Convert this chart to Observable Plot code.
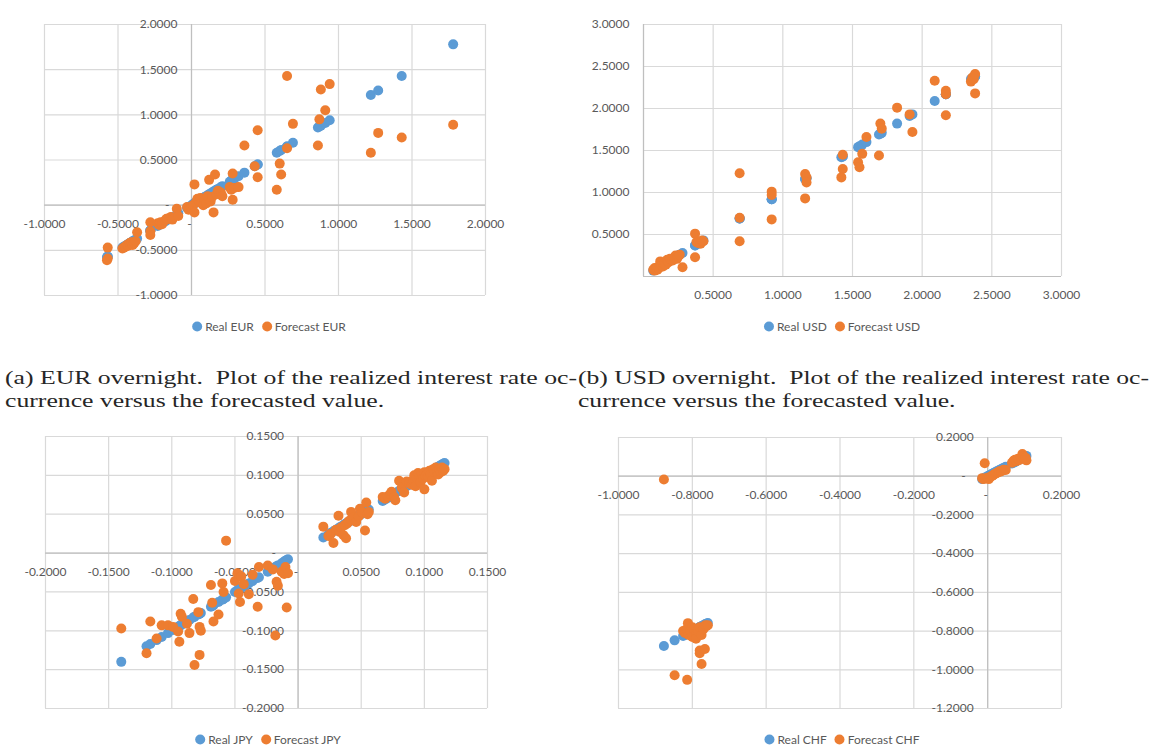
<!DOCTYPE html>
<html>
<head>
<meta charset="utf-8">
<script src="https://cdn.jsdelivr.net/npm/d3@7"></script>
<script src="https://cdn.jsdelivr.net/npm/@observablehq/plot@0.6"></script>
<style>
  body { margin: 0; background: #fff; width: 1157px; height: 749px; overflow: hidden; position: relative; font-family: Lato, sans-serif; }
  .panel { position: absolute; }
  .legend { position: absolute; font: 12px Lato, sans-serif; color: #595959; white-space: nowrap; transform: translate(-50%, -50%); }
  .legend .sw { display: inline-block; width: 10px; height: 10px; border-radius: 50%; vertical-align: -1px; margin-right: 3px; }
  .legend .item + .item { margin-left: 8px; }
  .caption { position: absolute; font-family: "Liberation Serif", serif; font-size: 19px; color: #262626; line-height: 23px; }
  .caption span { display: block; white-space: pre; transform-origin: left center; width: max-content; }
</style>
</head>
<body>
<script>
// Overnight rates: realized value of each observation and the model forecast for it.
const eurReal = [
  -0.57, -0.57, -0.575, -0.47, -0.46, -0.45, -0.44, -0.43, -0.42, -0.41,
  -0.40, -0.39, -0.38, -0.37, -0.28, -0.28, -0.28, -0.23, -0.22, -0.21,
  -0.20, -0.18, -0.17, -0.14, -0.13, -0.10, -0.09, -0.03, -0.02, 0.00,
  0.01, 0.02, 0.02, 0.03, 0.04, 0.05, 0.06, 0.07, 0.08, 0.09,
  0.10, 0.11, 0.12, 0.13, 0.14, 0.15, 0.16, 0.17, 0.18, 0.20,
  0.21, 0.26, 0.27, 0.28, 0.28, 0.29, 0.32, 0.36, 0.43, 0.45,
  0.45, 0.58, 0.60, 0.61, 0.65, 0.65, 0.69, 0.86, 0.87, 0.88,
  0.91, 0.94, 1.22, 1.27, 1.43, 1.78
];
const eurForecast = [
  -0.47, -0.59, -0.61, -0.48, -0.47, -0.46, -0.44, -0.45, -0.42, -0.41,
  -0.44, -0.42, -0.40, -0.30, -0.19, -0.29, -0.33, -0.20, -0.22, -0.19,
  -0.21, -0.17, -0.15, -0.13, -0.16, -0.04, -0.12, -0.02, -0.05, -0.03,
  0.00, 0.23, -0.08, 0.03, 0.07, 0.05, 0.08, 0.02, 0.00, 0.06,
  0.02, 0.10, 0.28, 0.04, 0.09, -0.08, 0.34, 0.12, 0.16, 0.14,
  0.10, 0.20, 0.17, 0.35, 0.06, 0.19, 0.20, 0.66, 0.43, 0.83,
  0.31, 0.17, 0.46, 0.34, 1.43, 0.63, 0.90, 0.66, 0.95, 1.28,
  1.05, 1.34, 0.58, 0.80, 0.75, 0.89
];

const usdReal = [
  0.07, 0.08, 0.08, 0.09, 0.10, 0.10, 0.11, 0.12, 0.12, 0.13,
  0.14, 0.15, 0.16, 0.17, 0.18, 0.19, 0.21, 0.22, 0.23, 0.24,
  0.25, 0.28, 0.26, 0.37, 0.37, 0.38, 0.39, 0.41, 0.42, 0.43,
  0.69, 0.69, 0.69, 0.92, 0.92, 0.92, 1.16, 1.17, 1.17, 1.16,
  1.43, 1.43, 1.42, 1.54, 1.55, 1.57, 1.60, 1.70, 1.71, 1.69,
  1.82, 1.91, 1.93, 2.09, 2.17, 2.17, 2.17, 2.35, 2.36, 2.37,
  2.38, 2.38
];
const usdForecast = [
  0.08, 0.07, 0.10, 0.09, 0.08, 0.11, 0.10, 0.12, 0.18, 0.13,
  0.12, 0.15, 0.14, 0.20, 0.17, 0.21, 0.19, 0.22, 0.25, 0.21,
  0.24, 0.11, 0.26, 0.51, 0.23, 0.41, 0.40, 0.39, 0.43, 0.42,
  1.23, 0.70, 0.42, 1.01, 0.97, 0.68, 1.22, 1.18, 1.12, 0.93,
  1.45, 1.28, 1.18, 1.36, 1.30, 1.46, 1.66, 1.82, 1.76, 1.44,
  2.01, 1.93, 1.72, 2.33, 2.21, 2.17, 1.92, 2.32, 2.37, 2.35,
  2.41, 2.18
];

const jpyReal = [
  -0.140, -0.120, -0.117, -0.112, -0.108, -0.103, -0.099, -0.095, -0.094, -0.093,
  -0.092, -0.088, -0.086, -0.083, -0.082, -0.079, -0.078, -0.077, -0.078, -0.069,
  -0.068, -0.067, -0.063, -0.060, -0.059, -0.057, -0.050, -0.048, -0.047, -0.046,
  -0.045, -0.043, -0.039, -0.036, -0.032, -0.031, -0.024, -0.020, -0.018, -0.017,
  -0.016, -0.013, -0.011, -0.010, -0.009, -0.008,
  0.020, 0.024, 0.026, 0.028, 0.030, 0.032, 0.033, 0.034, 0.036, 0.037,
  0.038, 0.039, 0.040, 0.042, 0.042, 0.044, 0.046, 0.048, 0.049, 0.051,
  0.053, 0.054, 0.055, 0.056, 0.067, 0.069, 0.071, 0.073, 0.074, 0.076,
  0.077, 0.080, 0.082, 0.084, 0.086, 0.088, 0.090, 0.091, 0.092, 0.093,
  0.094, 0.095, 0.096, 0.097, 0.098, 0.099, 0.100, 0.100, 0.101, 0.102,
  0.103, 0.104, 0.105, 0.106, 0.107, 0.108, 0.109, 0.110, 0.111, 0.112,
  0.113, 0.114, 0.115, 0.116
];
const jpyForecast = [
  -0.097, -0.129, -0.088, -0.110, -0.093, -0.093, -0.095, -0.101, -0.114, -0.078,
  -0.082, -0.091, -0.103, -0.059, -0.144, -0.076, -0.095, -0.100, -0.131, -0.041,
  -0.064, -0.088, -0.079, -0.039, -0.050, 0.016, -0.036, -0.026, -0.052, -0.063,
  -0.030, -0.040, -0.053, -0.028, -0.069, -0.018, -0.016, -0.021, -0.106, -0.037,
  -0.042, -0.024, -0.027, -0.018, -0.070, -0.026,
  0.034, 0.022, 0.025, 0.013, 0.030, 0.048, 0.027, 0.033, 0.023, 0.036,
  0.019, 0.038, 0.041, 0.043, 0.053, 0.046, 0.040, 0.047, 0.057, 0.052,
  0.029, 0.065, 0.050, 0.053, 0.072, 0.070, 0.073, 0.076, 0.079, 0.072,
  0.068, 0.093, 0.084, 0.078, 0.092, 0.090, 0.088, 0.094, 0.100, 0.086,
  0.097, 0.103, 0.099, 0.091, 0.102, 0.096, 0.082, 0.104, 0.099, 0.101,
  0.098, 0.106, 0.102, 0.093, 0.108, 0.104, 0.110, 0.105, 0.101, 0.108,
  0.104, 0.110, 0.106, 0.108
];

const chfReal = [
  -0.877, -0.848, -0.825, -0.814, -0.820, -0.815, -0.812, -0.810, -0.805, -0.800,
  -0.800, -0.795, -0.790, -0.790, -0.785, -0.780, -0.780, -0.780, -0.775, -0.775,
  -0.770, -0.766, -0.765, -0.762, -0.758,
  -0.015, -0.012, -0.008, -0.005, 0.000, 0.003, 0.006, 0.010, 0.013, 0.016,
  0.020, 0.024, 0.028, 0.032, 0.036, 0.040, 0.044, 0.049, 0.066, 0.070,
  0.074, 0.078, 0.082, 0.086, 0.090, 0.094, 0.097, 0.100, 0.103, 0.105
];
const chfForecast = [
  -0.017, -1.028, -0.800, -1.052, -0.810, -0.790, -0.759, -0.820, -0.800, -0.780,
  -0.830, -0.790, -0.810, -0.840, -0.800, -0.900, -0.915, -0.780, -0.970, -0.820,
  -0.790, -0.893, -0.770, -0.775, -0.770,
  -0.010, -0.015, 0.067, -0.012, -0.008, -0.015, -0.005, 0.000, 0.003, 0.008,
  0.012, 0.016, 0.020, 0.026, 0.024, 0.030, 0.034, 0.032, 0.070, 0.080,
  0.085, 0.078, 0.090, 0.084, 0.095, 0.115, 0.100, 0.090, 0.095, 0.082
];

// Axis ticks of each panel
const eurTicks = [-1, -0.5, 0, 0.5, 1, 1.5, 2];
const usdTicks = [0, 0.5, 1, 1.5, 2, 2.5, 3];
const jpyTicks = [-0.2, -0.15, -0.1, -0.05, 0, 0.05, 0.1, 0.15];
const chfXTicks = [-1, -0.8, -0.6, -0.4, -0.2, 0, 0.2];
const chfYTicks = [-1.2, -1, -0.8, -0.6, -0.4, -0.2, 0, 0.2];

const realColor = "#5b9bd5";
const forecastColor = "#ed7d31";
const gridColor = "#d9d9d9";
const axisColor = "#bfbfbf";
const labelColor = "#595959";

const fmt = v => v.toFixed(4);

function scatter({real, forecast, xTicks, yTicks, zeroLabels, left, top, width, height, margin}) {
  const realPts = real.map(r => ({x: r, y: r}));
  const forecastPts = real.map((r, i) => ({x: r, y: forecast[i]}));
  const xLab = xTicks.filter(d => d !== 0);
  const yLab = yTicks.filter(d => d !== 0);
  const marks = [
    Plot.ruleX(xTicks, {stroke: gridColor, strokeWidth: 1.2}),
    Plot.ruleY(yTicks, {stroke: gridColor, strokeWidth: 1.2}),
    Plot.ruleX([0], {stroke: axisColor, strokeWidth: 1.2}),
    Plot.ruleY([0], {stroke: axisColor, strokeWidth: 1.2}),
    Plot.text(xLab, {x: d => d, y: () => 0, text: fmt, dy: 19, fill: labelColor, fontSize: 12}),
    Plot.text(yLab, {x: () => 0, y: d => d, text: fmt, dx: -14, textAnchor: "end", fill: labelColor, fontSize: 12})
  ];
  if (zeroLabels) {
    marks.push(
      Plot.text([0], {x: d => d, y: () => 0, text: () => "-", dy: 19, dx: -2, fill: labelColor, fontSize: 12}),
      Plot.text([0], {x: () => 0, y: d => d, text: () => "-", dx: -22, textAnchor: "end", fill: labelColor, fontSize: 12})
    );
  }
  marks.push(
    Plot.dot(realPts, {x: "x", y: "y", r: 5, fill: realColor}),
    Plot.dot(forecastPts, {x: "x", y: "y", r: 5, fill: forecastColor})
  );
  const svg = Plot.plot({
    width, height,
    marginLeft: margin[0], marginRight: margin[1], marginTop: margin[2], marginBottom: margin[3],
    x: {domain: [xTicks[0], xTicks[xTicks.length - 1]], axis: null},
    y: {domain: [yTicks[0], yTicks[yTicks.length - 1]], axis: null},
    style: {fontFamily: "Lato, sans-serif", overflow: "visible", background: "transparent"},
    marks
  });
  const div = document.createElement("div");
  div.className = "panel";
  div.style.left = left + "px";
  div.style.top = top + "px";
  div.appendChild(svg);
  document.body.appendChild(div);
}

function legend(name, cx, cy) {
  const div = document.createElement("div");
  div.className = "legend";
  div.style.left = cx + "px";
  div.style.top = cy + "px";
  div.innerHTML =
    `<span class="item"><span class="sw" style="background:${realColor}"></span>Real ${name}</span>` +
    `<span class="item"><span class="sw" style="background:${forecastColor}"></span>Forecast ${name}</span>`;
  document.body.appendChild(div);
}

function caption(lines, left, top, width1) {
  const div = document.createElement("div");
  div.className = "caption";
  div.style.left = left + "px";
  div.style.top = top + "px";
  const spans = lines.map(t => {
    const s = document.createElement("span");
    s.textContent = t;
    div.appendChild(s);
    return s;
  });
  document.body.appendChild(div);
  const k = width1 / spans[0].getBoundingClientRect().width;
  spans.forEach(s => s.style.transform = `scaleX(${k})`);
}

scatter({real: eurReal, forecast: eurForecast, xTicks: eurTicks, yTicks: eurTicks, zeroLabels: true,
  left: 0, top: 0, width: 500, height: 310, margin: [44, 15, 24, 15]});
scatter({real: usdReal, forecast: usdForecast, xTicks: usdTicks, yTicks: usdTicks, zeroLabels: false,
  left: 580, top: 0, width: 500, height: 310, margin: [63, 19, 24, 34]});
scatter({real: jpyReal, forecast: jpyForecast, xTicks: jpyTicks, yTicks: jpyTicks, zeroLabels: true,
  left: 0, top: 420, width: 500, height: 300, margin: [45, 13, 16, 12]});
scatter({real: chfReal, forecast: chfForecast, xTicks: chfXTicks, yTicks: chfYTicks, zeroLabels: true,
  left: 580, top: 420, width: 500, height: 300, margin: [38, 19, 17, 12]});

legend("EUR", 269, 326);
legend("USD", 842, 326);
legend("JPY", 268, 739);
legend("CHF", 842, 739);

caption(["(a) EUR overnight.  Plot of the realized interest rate oc-",
         "currence versus the forecasted value."], 5, 366, 572);
caption(["(b) USD overnight.  Plot of the realized interest rate oc-",
         "currence versus the forecasted value."], 578, 366, 571);
</script>
</body>
</html>
